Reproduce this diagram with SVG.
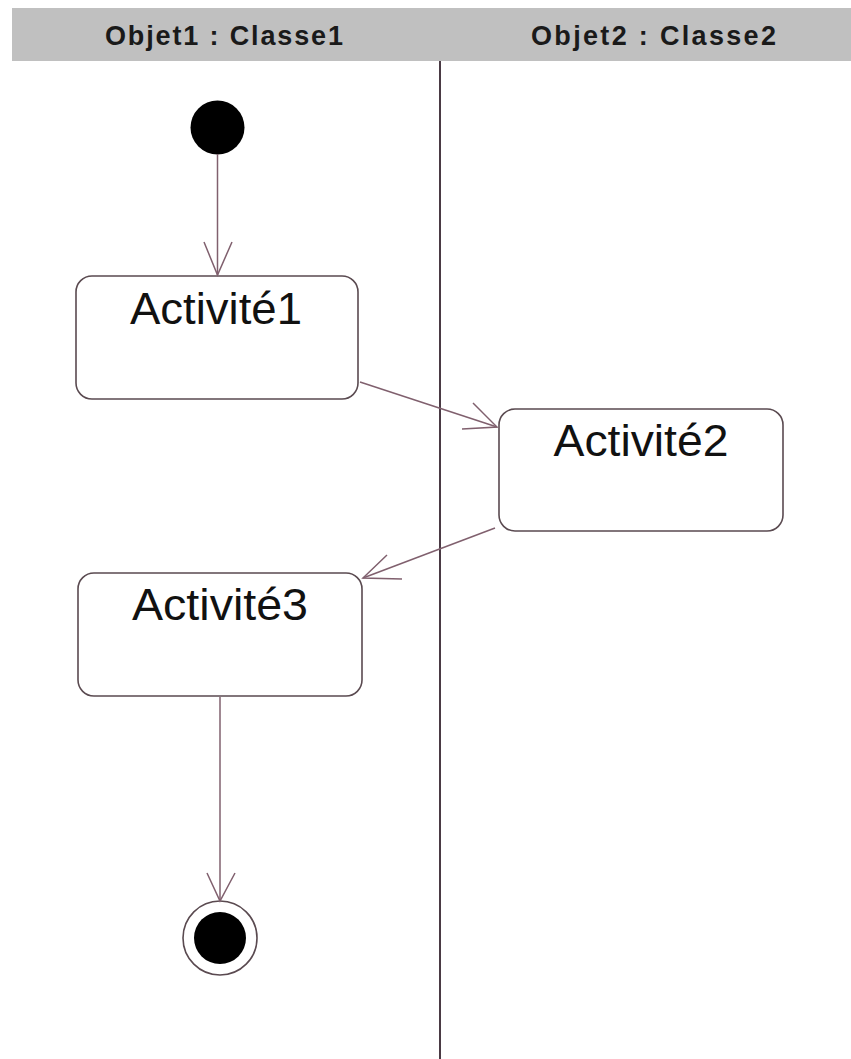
<svg xmlns="http://www.w3.org/2000/svg" width="851" height="1059" viewBox="0 0 851 1059">
  <defs>
    <style>
      .lane-title { font-family: "Liberation Sans", Arial, sans-serif; font-weight: bold; font-size: 27px; fill: #1a1a1a; }
      .activity rect { fill: #ffffff; stroke: #5a4a50; stroke-width: 1.6; }
      .activity text { font-family: "Liberation Sans", Arial, sans-serif; font-size: 45px; fill: #111111; text-anchor: middle; }
      .flow { fill: none; stroke: #80606e; stroke-width: 1.5; }
      .head { fill: none; stroke: #80606e; stroke-width: 1.5; }
    </style>
  </defs>
  <rect width="851" height="1059" fill="#ffffff"/>

  <!-- swimlane header band and divider -->
  <g id="swimlanes">
    <rect x="12" y="8" width="839" height="53" fill="#c0c0c0"/>
    <text class="lane-title" x="105" y="45" textLength="238" lengthAdjust="spacing">Objet1 : Classe1</text>
    <text class="lane-title" x="531" y="45" textLength="245" lengthAdjust="spacing">Objet2 : Classe2</text>
    <line x1="440" y1="61" x2="440" y2="1059" stroke="#4a3a44" stroke-width="2"/>
  </g>

  <!-- initial pseudo-state -->
  <g id="start">
    <circle cx="217.5" cy="127.5" r="27" fill="#000000"/>
  </g>

  <g id="activite1" class="activity">
    <rect x="76" y="276" width="282" height="123" rx="16" ry="16"/>
    <text x="216" y="324" textLength="172" lengthAdjust="spacingAndGlyphs">Activité1</text>
  </g>

  <g id="activite2" class="activity">
    <rect x="499" y="409" width="284" height="122" rx="16" ry="16"/>
    <text x="641" y="456" textLength="175" lengthAdjust="spacingAndGlyphs">Activité2</text>
  </g>

  <g id="activite3" class="activity">
    <rect x="78" y="573" width="284" height="123" rx="16" ry="16"/>
    <text x="220" y="620" textLength="176" lengthAdjust="spacingAndGlyphs">Activité3</text>
  </g>

  <!-- final state: ring around a filled disc -->
  <g id="end">
    <circle cx="220" cy="938" r="37" fill="#ffffff" stroke="#5a4a50" stroke-width="1.6"/>
    <circle cx="220" cy="938" r="26" fill="#000000"/>
  </g>

  <!-- transitions with open arrowheads -->
  <g id="connectors">
    <line class="flow" x1="217.5" y1="154" x2="217.5" y2="275"/>
    <polyline class="head" points="204,242 217.5,275 232,242"/>

    <line class="flow" x1="360" y1="382" x2="497" y2="427"/>
    <polyline class="head" points="473,403 497,427 462,429"/>

    <line class="flow" x1="495" y1="528" x2="363" y2="578"/>
    <polyline class="head" points="387,555 363,578 402,579"/>

    <line class="flow" x1="220" y1="697" x2="220" y2="901"/>
    <polyline class="head" points="207,873 220,901 235,873"/>
  </g>
</svg>
